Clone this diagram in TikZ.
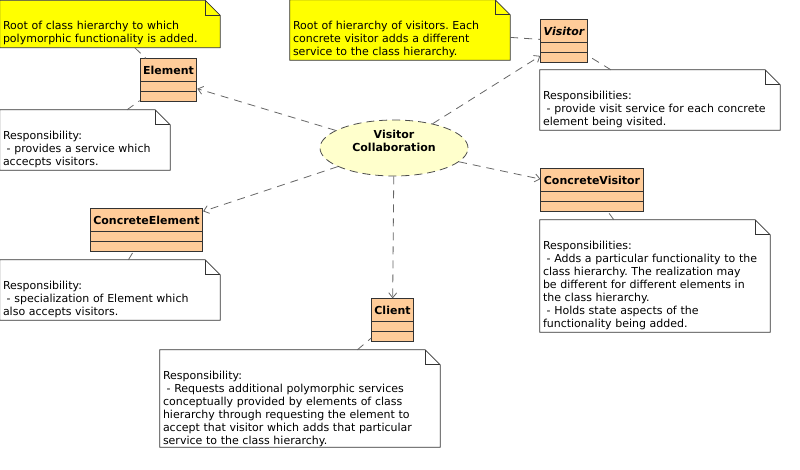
\documentclass[tikz,border=0pt]{standalone}
\usepackage{fontspec}
\setmainfont{DejaVu Sans}
\frenchspacing
\usetikzlibrary{arrows.meta,shapes.geometric,shapes.multipart,backgrounds}
\definecolor{classfill}{HTML}{FFCC99}
\definecolor{notefill}{HTML}{FFFF00}
\definecolor{collabfill}{HTML}{FFFFCC}
\definecolor{linegray}{HTML}{666666}

\begin{document}
\begin{tikzpicture}[x=1pt, y=-1pt,
    font=\fontsize{11}{13}\selectfont,
    umlclass/.style={draw=black!80, fill=classfill, line width=0.8pt,
        rectangle split, rectangle split parts=3,
        rectangle split empty part height=9pt, rectangle split empty part depth=0pt,
        inner ysep=0pt, inner xsep=3pt, font=\fontsize{11}{13}\selectfont\bfseries,
        execute at begin node={\rule[-7pt]{0pt}{22pt}}},
    umlnote/.style={align=left, inner xsep=3pt, inner ysep=0pt, text height=29pt},
    collab/.style={ellipse, draw=black!70, fill=collabfill, line width=0.8pt,
        dash pattern=on 8pt off 5pt, minimum width=148pt, minimum height=56pt,
        inner sep=0pt, align=center, font=\fontsize{11}{13}\selectfont\bfseries,
        execute at end node={\rule[-14pt]{0pt}{0pt}}},
    notelink/.style={draw=linegray, line width=0.8pt, dash pattern=on 8pt off 6pt},
    depend/.style={notelink, -{Straight Barb[length=5pt,width=8pt]}}]
\useasboundingbox (0,0) rectangle (800,469);

% collaboration in the middle
\node[collab] (vc) at (394,148) {Visitor\\Collaboration};

% classes
\node[umlclass] (element) at (168.5,80) {Element};
\node[umlclass, font=\fontsize{11}{13}\selectfont\bfseries\itshape] (visitor) at (564,41) {Visitor};
\node[umlclass] (concvis) at (592,190) {ConcreteVisitor};
\node[umlclass] (concel) at (146.5,230) {ConcreteElement};
\node[umlclass] (client) at (392.5,320) {Client};

% notes (text height + text depth = note height)
\node[umlnote, text width=214pt, minimum width=220pt, minimum height=47pt, text depth=18pt] (rootnote) at (110,24)
    {Root of class hierarchy to which\\polymorphic functionality is added.};
\node[umlnote, text width=164pt, minimum width=170pt, minimum height=60pt, text depth=31pt] (elemnote) at (85,140)
    {Responsibility:\\~- provides a service which\\accecpts visitors.};
\node[umlnote, text width=214pt, minimum width=220pt, minimum height=60pt, text depth=31pt] (visnote) at (400,30)
    {Root of hierarchy of visitors. Each\\concrete visitor adds a different\\service to the class hierarchy.};
\node[umlnote, text width=234pt, minimum width=240pt, minimum height=60pt, text depth=31pt] (visresp) at (660,100)
    {Responsibilities:\\~- provide visit service for each concrete\\element being visited.};
\node[umlnote, text width=224pt, minimum width=230pt, minimum height=112pt, text depth=83pt] (cvnote) at (655,276)
    {Responsibilities:\\~- Adds a particular functionality to the\\class hierarchy. The realization may\\be different for different elements in\\the class hierarchy.\\~- Holds state aspects of the\\functionality being added.};
\node[umlnote, text width=214pt, minimum width=220pt, minimum height=60pt, text depth=31pt] (cenote) at (110,290)
    {Responsibility:\\~- specialization of Element which\\also accepts visitors.};
\node[umlnote, text width=274pt, minimum width=280pt, minimum height=97pt, text depth=68pt] (clnote) at (300,398.5)
    {Responsibility:\\~- Requests additional polymorphic services\\conceptually provided by elements of class\\hierarchy through requesting the element to\\accept that visitor which adds that particular\\service to the class hierarchy.};

% note outlines with folded corner
\begin{scope}[on background layer]
\foreach \nn/\cc in {rootnote/notefill, elemnote/white, visnote/notefill, visresp/white,
                     cvnote/white, cenote/white, clnote/white} {
    \filldraw[draw=black!80, fill=\cc, line width=0.8pt] (\nn.south west) -- (\nn.north west)
        -- ([xshift=-15pt]\nn.north east) -- ([yshift=-15pt]\nn.north east) -- (\nn.south east) -- cycle;
    \draw[black!80, line width=0.8pt] ([xshift=-15pt]\nn.north east) |- ([yshift=-15pt]\nn.north east);
}
\end{scope}

% dependencies
\foreach \cls in {element, visitor, concvis, concel, client}
    \draw[depend] (vc) -- (\cls);

% note links
\foreach \nn/\cls in {rootnote/element, elemnote/element, visnote/visitor, visresp/visitor,
                      cvnote/concvis, cenote/concel, clnote/client}
    \draw[notelink] (\nn) -- (\cls);
\end{tikzpicture}
\end{document}
